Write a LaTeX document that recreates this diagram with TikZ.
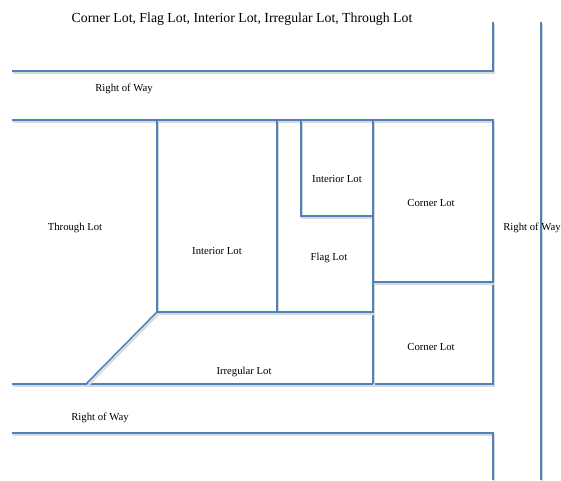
\documentclass[tikz,border=0pt]{standalone}
\usepackage{fontspec}
\setmainfont{Liberation Serif}
\definecolor{lotblue}{RGB}{79,129,189}
\tikzset{
  lotline/.style={draw=lotblue, line width=1.6pt, line cap=butt, line join=miter,
    preaction={draw=black!15, line width=2pt, transform canvas={shift={(1.2pt,-2.2pt)}}}},
  lbl/.style={font=\fontsize{10.7}{12}\selectfont, inner sep=0pt, text=black},
  ttl/.style={font=\fontsize{13.8}{16}\selectfont, inner sep=0pt, text=black}
}
\begin{document}
\begin{tikzpicture}[x=1pt,y=-1pt]
\useasboundingbox (0,0) rectangle (561,480);
% roads
\draw[lotline] (12,71) -- (493,71) -- (493,22);
\draw[lotline] (541,22) -- (541,480);
\draw[lotline] (12,433) -- (493,433) -- (493,480);
% block
\draw[lotline] (12,120) -- (493,120) -- (493,384) -- (12,384);
\draw[lotline] (157,120) -- (157,312);
\draw[lotline] (277,120) -- (277,312);
\draw[lotline] (301,120) -- (301,216) -- (373,216);
\draw[lotline] (373,120) -- (373,384);
\draw[lotline] (373,282) -- (493,282);
\draw[lotline] (86,384) -- (157,312) -- (373,312);
% labels
\node[ttl] (title) at (242,19) {Corner Lot, Flag Lot, Interior Lot, Irregular Lot, Through Lot};
\node[lbl] (row1) at (124,88.5) {Right of Way};
\node[lbl] (through) at (75,227.5) {Through Lot};
\node[lbl] (int1) at (217,251.5) {Interior Lot};
\node[lbl] (int2) at (337,179.5) {Interior Lot};
\node[lbl] (corner1) at (431,203.5) {Corner Lot};
\node[lbl] (flag) at (329,257.5) {Flag Lot};
\node[lbl] (row2) at (532,227.5) {Right of Way};
\node[lbl] (corner2) at (431,347.5) {Corner Lot};
\node[lbl] (irreg) at (244,371.5) {Irregular Lot};
\node[lbl] (row3) at (100,417.5) {Right of Way};
\end{tikzpicture}
\end{document}
